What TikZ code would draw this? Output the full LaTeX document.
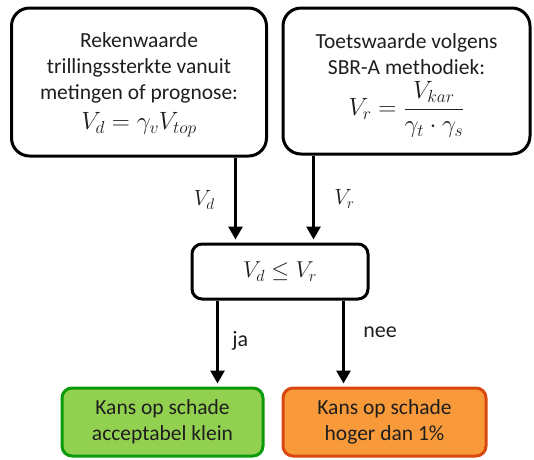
\RequirePackage{fix-cm}
\documentclass[tikz,border=0pt]{standalone}
\usepackage{amsmath}
\usepackage{fontspec}
\setmainfont{Carlito}
\usetikzlibrary{positioning, arrows.meta, calc}

\definecolor{okfill}{HTML}{92D050}
\definecolor{okline}{HTML}{0A9A0A}
\definecolor{nokfill}{HTML}{F99A3A}
\definecolor{nokline}{HTML}{D9480F}
\definecolor{txt}{HTML}{1E1E1E}

\newcommand{\bigmath}[1]{{\fontsize{25}{26}\selectfont$\displaystyle #1$}}

\tikzset{
  box/.style={draw, line width=3pt, rounded corners=18pt, align=center,
    inner sep=0pt, text=txt, font=\fontsize{21.5}{26}\selectfont},
  small box/.style={box, rounded corners=10pt},
  lbl/.style={text=txt, font=\fontsize{22}{24}\selectfont}
}

\begin{document}
\begin{tikzpicture}[x=1pt, y=-1pt, line width=3pt,
    >={Triangle[length=13pt,width=14pt]}, shorten >=3pt]
  \useasboundingbox (0,0) rectangle (534,459);

  \node[box, minimum width=255pt, minimum height=148pt] (vd) at (139,82)
    {\rule{0pt}{21pt}Rekenwaarde\\trillingssterkte vanuit\\metingen of prognose:\\[4pt]\bigmath{V_d=\gamma_v V_{top}}};
  \node[box, minimum width=247pt, minimum height=146pt] (vr) at (406.5,81)
    {\rule{0pt}{24pt}Toetswaarde volgens\\SBR-A methodiek:\\[6pt]\bigmath{V_r=\frac{V_{kar}}{\gamma_t\cdot\gamma_s}}};
  \node[small box, minimum width=176pt, minimum height=55pt] (check) at (280,271.5)
    {\fontsize{23}{24}\selectfont$V_d\le V_r$};
  \node[small box, draw=okline, fill=okfill, minimum width=201pt, minimum height=68pt] (ok) at (162.5,422)
    {Kans op schade\\acceptabel klein};
  \node[small box, draw=nokline, fill=nokfill, minimum width=203pt, minimum height=68pt] (nok) at (384.5,422)
    {Kans op schade\\hoger dan 1\%};

  \coordinate (ind) at ([xshift=45pt]check.north west);
  \coordinate (inr) at ([xshift=-56pt]check.north east);
  \coordinate (outja) at ([xshift=27pt]check.south west);
  \coordinate (outnee) at ([xshift=-26pt]check.south east);

  \draw[->] (vd.south -| ind) -- (ind) node[lbl, midway, left=16pt] {$V_d$};
  \draw[->] (vr.south -| inr) -- (inr) node[lbl, midway, right=16pt] {$V_r$};
  \draw[->] (outja) -- (outja |- ok.north) node[lbl, midway, right=10pt, yshift=3pt] {ja};
  \draw[->] (outnee) -- (outnee |- nok.north) node[lbl, midway, right=15pt, yshift=11pt] {nee};
\end{tikzpicture}
\end{document}
